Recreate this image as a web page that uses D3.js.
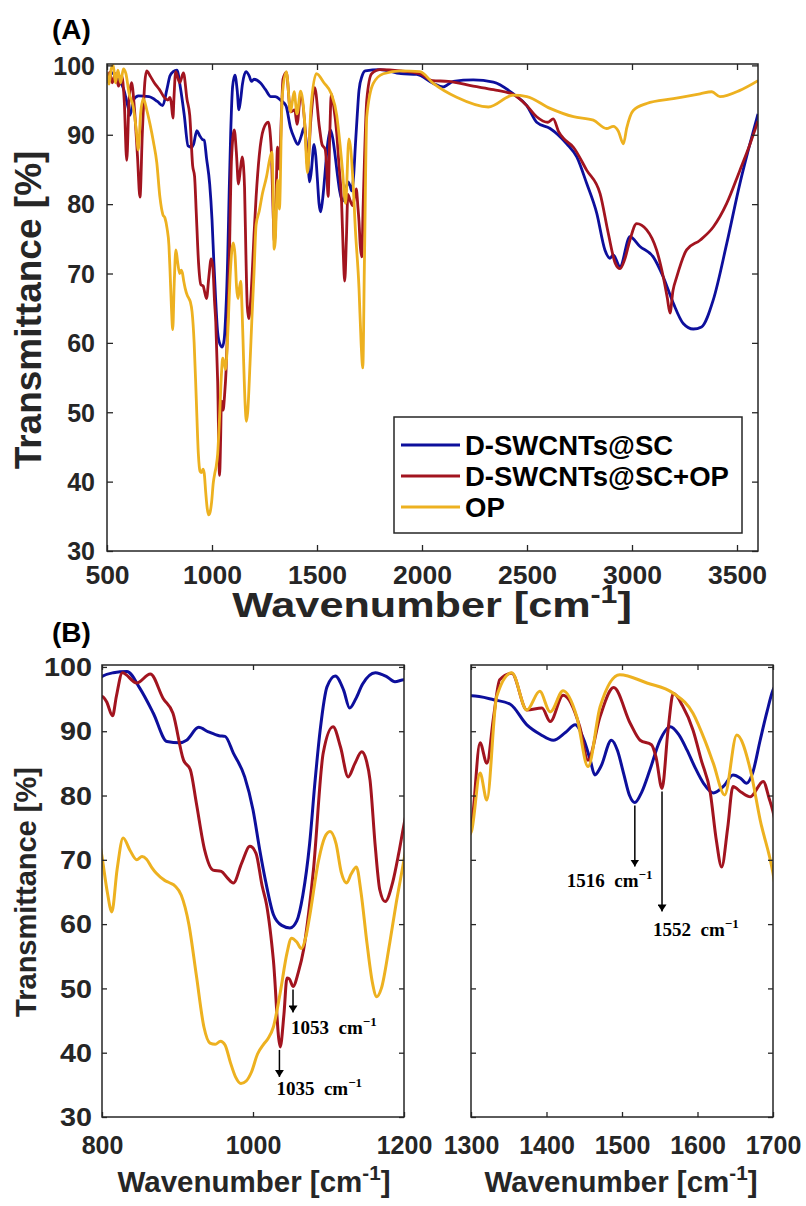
<!DOCTYPE html>
<html><head><meta charset="utf-8">
<script src="https://cdn.jsdelivr.net/npm/d3@7"></script>
<style>body{margin:0;background:#fff}svg{display:block}</style>
</head><body>
<script>
// ---------------- DATA ----------------
const seriesNames = ["D-SWCNTs@SC", "D-SWCNTs@SC+OP", "OP"];
const seriesColors = ["#0d0f9c", "#a2141f", "#edb120"];

const scWavenumber = [500,520,540,560,580,600,610,625,650,700,740,765,785,800,815,833,850,868,886,903,912,928,941,955,963,974,989,1000,1009,1017,1027,1038,1049,1058,1066,1075,1082,1089,1098,1109,1120,1128,1136,1145,1162,1177,1188,1200,1230,1255,1280,1301,1330,1352,1374,1392,1409,1425,1438,1450,1458,1464,1472,1486,1494,1502,1510,1517,1526,1537,1550,1564,1575,1586,1597,1608,1621,1635,1647,1657,1665,1673,1683,1692,1700,1715,1730,1800,1900,1975,2054,2101,2149,2244,2340,2435,2499,2546,2610,2689,2737,2784,2832,2871,2895,2911,2943,2990,3038,3101,3149,3197,3244,3292,3331,3387,3451,3514,3560,3600];
const scTransmittance = [98.3,99,98.5,97.8,96.5,94,92.8,95,95.6,95.5,94.8,94.2,96.5,98.5,99.1,99.3,96.7,92.8,88.4,88.2,88.6,90.6,89.9,89.3,89.2,86.6,82.9,77.8,71.5,66.5,61.5,59.8,59.4,60.5,64.5,72.5,82,90.2,96.9,98.6,96.4,93.6,95,97.3,99.1,98.5,97.7,98,97.5,96.5,95.5,95.5,94.9,94.2,91,89.5,88.6,89.8,91,88.5,85.5,83.2,84.5,88.6,87,83.5,80,78.9,80.5,84,88.5,90.7,89.5,87.1,84.3,81.9,80.4,81.5,83.2,82.7,81.9,83.5,88.6,93,96.4,98.5,99.2,99.4,98.8,98.7,97.4,96.9,97.7,97.9,97.6,95.9,94.2,91.8,90.9,88.7,86.8,83,78.7,73.4,72.2,72.7,71,75.3,73.9,72.4,69.5,65.7,62.8,62,62.3,66.2,74.3,83,88.5,93];

const scopWavenumber = [500,512,525,540,555,570,582,594,605,617,630,645,657,668,680,689,705,725,750,775,790,800,806,814,819,827,846,864,881,894,908,917,925,936,947,958,966,974,985,996,1004,1012,1018,1027,1036,1041,1045,1048,1053,1060,1067,1074,1080,1093,1106,1116,1126,1135,1144,1150,1155,1162,1168,1175,1185,1193,1200,1210,1225,1245,1268,1282,1292,1297,1301,1312,1321,1330,1338,1354,1374,1394,1405,1422,1444,1455,1471,1489,1511,1524,1539,1545,1553,1561,1568,1580,1594,1605,1617,1625,1632,1640,1647,1658,1670,1687,1695,1700,1706,1713,1720,1737,1760,1800,1900,1990,2050,2125,2244,2340,2435,2499,2546,2600,2625,2650,2673,2721,2784,2848,2887,2920,2943,2965,2990,3022,3070,3117,3149,3168,3181,3195,3213,3260,3324,3387,3451,3514,3560,3600];
const scopTransmittance = [97.5,99,97.5,98.8,97,98.5,95,86.3,95,97.5,94,87,81,90,97.5,99.2,98.5,97.5,96.5,95.3,95,95.4,94.6,92.4,95.4,99.1,97.5,98.9,95.1,92.8,85.5,84,78.8,71.5,68.4,68.2,67.2,66.4,69.5,72.1,71,66,63,54.4,40.9,46,51.6,51.5,50.3,52.5,56,62,68.4,86.6,90.7,87.5,82.9,85,86.8,85.5,82.4,72,65.3,63.5,66.5,71,75.5,81,87,90.8,91.8,88,78,74.5,75.7,88.2,85,92.3,98,99,93.3,93.6,91.5,95.6,90.7,85.5,92.3,96.8,91.2,88.6,87.9,86,81.1,90.2,95.9,94,90.2,85.5,80.4,73,68.9,75,81.4,80.5,79.8,82.2,79.5,77.5,74,72.4,80,95,98.8,99.4,99.2,98.8,97.8,97.7,97,96.5,95.8,94.2,92.6,91.8,92.3,90.5,89.5,88.2,84.9,81.5,75.8,71.5,70.7,72,74.8,77.2,76.3,73.4,69.5,66.5,64.3,67.5,69.5,73.4,74.8,76.7,80.1,84.9,88.5,92];

const opWavenumber = [500,510,520,530,540,552,565,578,590,605,625,640,649,660,673,690,705,721,737,752,766,776,786,795,800,807,813,820,828,837,846,853,859,866,872,883,890,897,905,915,925,935,943,950,957,963,970,977,984,991,998,1006,1014,1020,1027,1036,1045,1051,1058,1064,1070,1075,1087,1095,1102,1110,1117,1124,1130,1137,1143,1151,1158,1164,1170,1181,1190,1200,1210,1225,1240,1260,1275,1285,1291,1296,1301,1312,1321,1334,1354,1374,1391,1405,1422,1440,1455,1471,1497,1533,1568,1594,1610,1621,1636,1652,1670,1683,1700,1710,1718,1726,1737,1768,1816,1900,1990,2054,2165,2316,2435,2499,2610,2721,2816,2879,2911,2935,2959,2975,3006,3070,3197,3324,3380,3419,3514,3600];
const opTransmittance = [99,97.3,99.5,100,97.5,99.3,97.5,99.5,98.8,96,94,90.5,87.8,93,95.2,93.5,91.5,89,86,81,78.5,78,76.5,74,70.5,65,61.9,68.5,73.4,71.5,70,70.5,70.1,68.8,67.9,66.8,66.4,65.9,64.5,60,52,44,41.5,41.3,41.8,41.2,38.5,36.2,35.2,35.6,37,39.8,41.3,42.2,44,49.3,55.5,57.8,57.2,56.2,58,61.2,70,73.5,74.4,72.5,68,66.4,67.8,68.9,65,57,51,48.7,50,57,63.5,70,77,79,81.5,84,86.5,87.5,82,73.5,74.6,83.5,79.3,95.4,99.1,93.3,96.2,93,96.3,92.3,84.5,93.8,98.8,97.5,95.9,92.8,88.5,85,80.1,89.4,84,76.2,67.9,60,56.4,72,92.6,97.4,98.8,99.2,99.1,97.4,95.4,94,95.7,95.5,93.8,92.6,92.1,90.9,91.2,90.5,88.7,91,93.5,94.5,95.2,95.9,96.2,95.5,96.4,97.8];

const xTicksA = [500,1000,1500,2000,2500,3000,3500];
const xTicksB1 = [800,1000,1200];
const xTicksB2 = [1300,1400,1500,1600,1700];
const yTicks = [30,40,50,60,70,80,90,100];

const peakLabels = [
  {panel:1, wn:1053, t:50.3, len:23, text:"1053", dx:-2, dy:22},
  {panel:1, wn:1035, t:40.9, len:27, text:"1035", dx:-3, dy:18},
  {panel:2, wn:1517, t:78.9, len:61, text:"1516", dx:-68, dy:20},
  {panel:2, wn:1553, t:81.1, len:120, text:"1552", dx:-9, dy:25}
];

// ---------------- DRAW ----------------
const W = 806, H = 1206;
const svg = d3.select("body").append("svg").attr("width", W).attr("height", H);
const FONT = "'Liberation Sans', Arial, sans-serif";
const AX = "#262626";

function stretchX(sel, s) {
  sel.each(function () {
    const t = d3.select(this);
    const x = +t.attr("x") || 0;
    t.attr("x", 0).attr("transform", `translate(${x},0) scale(${s},1)`);
  });
}

const series = [
  {wn: scWavenumber, t: scTransmittance},
  {wn: scopWavenumber, t: scopTransmittance},
  {wn: opWavenumber, t: opTransmittance}
].map((s, i) => ({name: seriesNames[i], color: seriesColors[i], pts: s.wn.map((w, j) => [w, s.t[j]])}));

const defs = svg.append("defs");
defs.append("marker").attr("id", "arrow").attr("viewBox", "0 0 10 10")
  .attr("refX", 10).attr("refY", 5).attr("markerWidth", 7).attr("markerHeight", 9)
  .attr("markerUnits", "userSpaceOnUse").attr("orient", "auto").attr("preserveAspectRatio", "none")
  .append("path").attr("d", "M0,0 L10,5 L0,10 z").attr("fill", "#000");

const panels = [
  {x0:107, x1:758, y0:64, y1:551, xd:[500,3600], yd:[30,100.2], xt:xTicksA, tick:6, xfs:26.5, yfs:25, ys:1, ylabX:-12, lw:2.8, xlabY:24},
  {x0:102, x1:404, y0:665, y1:1117, xd:[800,1200], yd:[30,100.3], xt:xTicksB1, tick:5, xfs:25, yfs:25, ys:1.15, ylabX:-10, lw:3, xlabY:28},
  {x0:471, x1:773, y0:665, y1:1117, xd:[1300,1700], yd:[30,100.3], xt:xTicksB2, tick:5, xfs:25, yfs:25, ys:1, ylabX:-10, lw:3, xlabY:28, noY:true}
];

panels.forEach((p, pi) => {
  const x = d3.scaleLinear().domain(p.xd).range([p.x0, p.x1]);
  const y = d3.scaleLinear().domain(p.yd).range([p.y1, p.y0]);
  p.x = x; p.y = y;
  const g = svg.append("g");
  const cid = "clip" + pi;
  defs.append("clipPath").attr("id", cid).append("rect")
    .attr("x", p.x0).attr("y", p.y0 - 2).attr("width", p.x1 - p.x0).attr("height", p.y1 - p.y0 + 4);

  const line = d3.line().x(d => x(d[0])).y(d => y(d[1])).curve(d3.curveMonotoneX);
  const lg = g.append("g").attr("clip-path", `url(#${cid})`);
  series.forEach(s => {
    const pts = s.pts.filter((d, i, a) => {
      const prev = a[i - 1], next = a[i + 1];
      return (d[0] >= p.xd[0] && d[0] <= p.xd[1]) ||
             (next && next[0] >= p.xd[0] && d[0] < p.xd[0]) ||
             (prev && prev[0] <= p.xd[1] && d[0] > p.xd[1]);
    });
    lg.append("path").datum(pts).attr("d", line).attr("fill", "none")
      .attr("stroke", s.color).attr("stroke-width", p.lw).attr("stroke-linejoin", "round");
  });

  const styleAxis = (sel, fs) => {
    sel.select(".domain").remove();
    sel.selectAll(".tick line").attr("stroke", AX).attr("stroke-width", 1.3);
    sel.selectAll("text").attr("fill", AX).attr("font-family", FONT).attr("font-weight", "bold").attr("font-size", fs);
  };
  const bx = g.append("g").attr("transform", `translate(0,${p.y1})`)
    .call(d3.axisBottom(x).tickValues(p.xt).tickSize(-p.tick).tickFormat(d3.format("d")));
  styleAxis(bx, p.xfs);
  bx.selectAll("text").attr("y", p.xlabY).attr("dy", "0.35em");
  const tx = g.append("g").attr("transform", `translate(0,${p.y0})`)
    .call(d3.axisTop(x).tickValues(p.xt).tickSize(-p.tick).tickFormat(""));
  styleAxis(tx, p.xfs);
  const ly = g.append("g").attr("transform", `translate(${p.x0},0)`)
    .call(d3.axisLeft(y).tickValues(yTicks).tickSize(-p.tick).tickFormat(p.noY ? "" : d3.format("d")));
  styleAxis(ly, p.yfs);
  ly.selectAll("text").attr("x", p.ylabX).attr("dy", "0.35em");
  stretchX(ly.selectAll("text"), p.ys);
  const ry = g.append("g").attr("transform", `translate(${p.x1},0)`)
    .call(d3.axisRight(y).tickValues(yTicks).tickSize(-p.tick).tickFormat(""));
  styleAxis(ry, p.yfs);

  g.append("rect").attr("x", p.x0).attr("y", p.y0).attr("width", p.x1 - p.x0).attr("height", p.y1 - p.y0)
    .attr("fill", "none").attr("stroke", AX).attr("stroke-width", 1.5);
});

// axis titles
function wnTitle(cx, baseY, fs, sx) {
  const t = svg.append("text").attr("transform", `translate(${cx},${baseY}) scale(${sx},1)`)
    .attr("text-anchor", "middle").attr("font-family", FONT).attr("font-weight", "bold")
    .attr("font-size", fs).attr("fill", AX);
  t.append("tspan").text("Wavenumber [cm");
  t.append("tspan").text("-1").attr("font-size", fs * 0.7).attr("dy", -fs * 0.4);
  t.append("tspan").text("]").attr("dy", fs * 0.4);
}
function yTitle(cx, cy, fs) {
  svg.append("text").attr("transform", `translate(${cx},${cy}) rotate(-90)`).attr("dy", "0.35em")
    .attr("text-anchor", "middle").attr("font-family", FONT).attr("font-weight", "bold")
    .attr("font-size", fs).attr("fill", AX).text("Transmittance [%]");
}
wnTitle(432, 617, 36, 1.2);
yTitle(28, 310, 37);
wnTitle(254, 1192, 29.5, 1);
wnTitle(621, 1192, 29.5, 1);
yTitle(26, 892, 29);

// panel letters
svg.append("text").attr("x", 52).attr("y", 29).attr("dy", "0.35em").attr("font-family", FONT)
  .attr("font-weight", "bold").attr("font-size", 28).attr("fill", "#000").text("(A)");
svg.append("text").attr("x", 52).attr("y", 632).attr("dy", "0.35em").attr("font-family", FONT)
  .attr("font-weight", "bold").attr("font-size", 28).attr("fill", "#000").text("(B)");

// legend
const lgd = svg.append("g");
lgd.append("rect").attr("x", 394).attr("y", 417).attr("width", 348).attr("height", 116)
  .attr("fill", "#fff").attr("stroke", AX).attr("stroke-width", 1.5);
const legendY = [445, 476, 507];
series.forEach((s, i) => {
  lgd.append("line").attr("x1", 401).attr("x2", 460).attr("y1", legendY[i]).attr("y2", legendY[i])
    .attr("stroke", s.color).attr("stroke-width", 2.8);
  lgd.append("text").attr("x", 465).attr("y", legendY[i]).attr("dy", "0.35em")
    .attr("font-family", FONT).attr("font-weight", "bold").attr("font-size", 27.5).attr("fill", "#000")
    .text(s.name);
});

// peak annotations
peakLabels.forEach(a => {
  const p = panels[a.panel];
  const ax = p.x(a.wn), ay = p.y(a.t) + 3;
  svg.append("line").attr("x1", ax).attr("x2", ax).attr("y1", ay).attr("y2", ay + a.len)
    .attr("stroke", "#000").attr("stroke-width", 1.5).attr("marker-end", "url(#arrow)");
  const t = svg.append("text").attr("x", ax + a.dx).attr("y", ay + a.len + a.dy)
    .attr("font-family", "'Liberation Serif', 'Times New Roman', serif").attr("font-weight", "bold")
    .attr("font-size", 19).attr("fill", "#000");
  t.append("tspan").text(a.text + "\u00a0 cm");
  t.append("tspan").text("\u22121").attr("font-size", 13).attr("dy", -8);
});
</script>
</body></html>
